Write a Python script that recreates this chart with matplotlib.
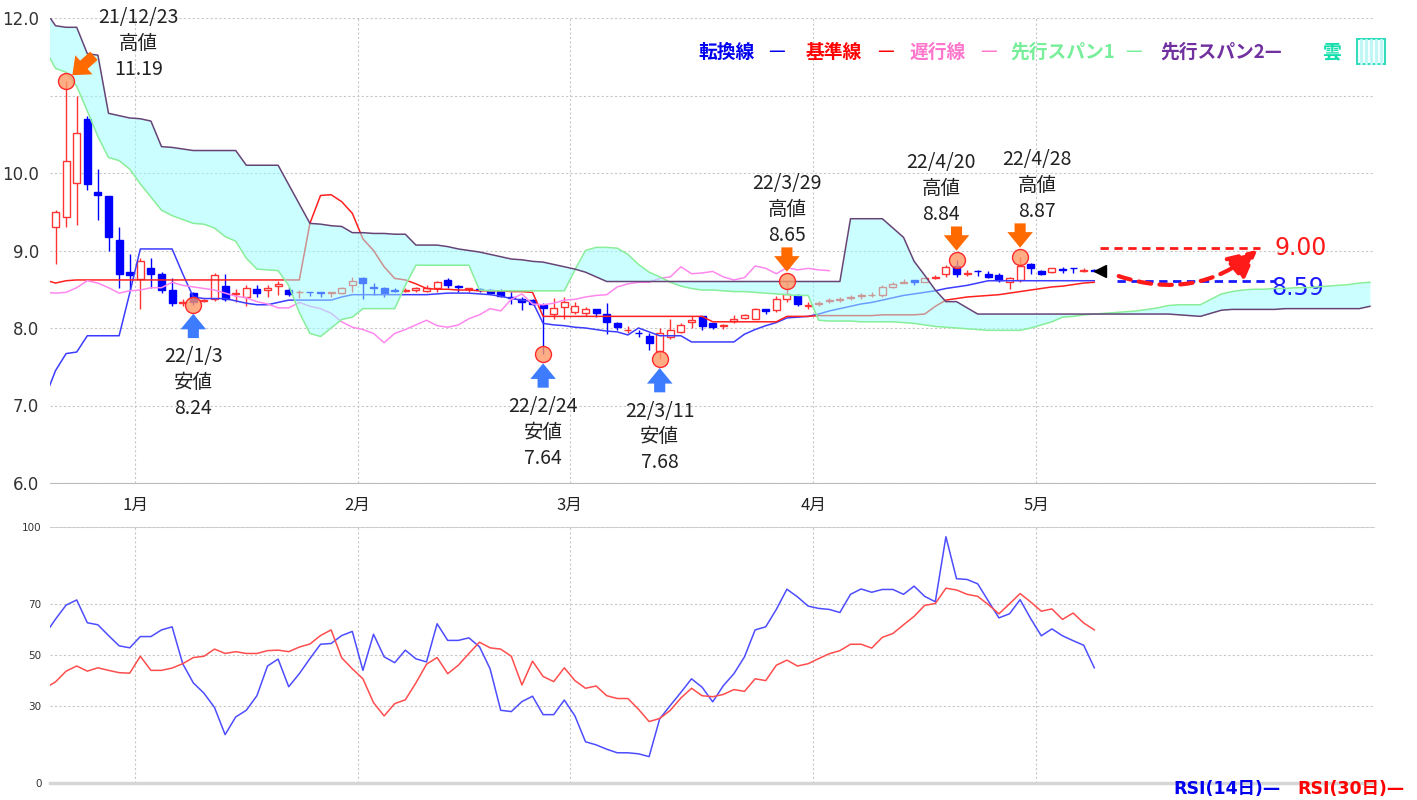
import numpy as np
import matplotlib

matplotlib.use("Agg")
import matplotlib.pyplot as plt  # noqa: E402
from matplotlib.lines import Line2D  # noqa: E402
from matplotlib.patches import Rectangle  # noqa: E402

plt.rcParams["font.family"] = ["Noto Sans CJK JP", "DejaVu Sans"]

# ---- daily candles, index 0 = first visible trading day (21/12/22) ----
opens = [9.30, 9.43, 9.87, 10.70, 9.75, 9.70, 9.13, 8.72, 8.63, 8.77,
         8.70, 8.49, 8.32, 8.45, 8.35, 8.37, 8.54, 8.44, 8.40, 8.50,
         8.49, 8.54, 8.49, 8.46, 8.47, 8.46, 8.45, 8.45, 8.55, 8.65,
         8.53, 8.51, 8.49, 8.48, 8.49, 8.48, 8.51, 8.62, 8.54, 8.50,
         8.50, 8.49, 8.48, 8.40, 8.38, 8.36, 8.30, 8.18, 8.27, 8.21,
         8.19, 8.24, 8.18, 8.06, 7.97, 7.94, 7.90, 7.70, 7.89, 7.95,
         8.08, 8.15, 8.06, 8.03, 8.09, 8.13, 8.12, 8.25, 8.23, 8.38,
         8.42, 8.29, 8.31, 8.35, 8.36, 8.39, 8.41, 8.42, 8.42, 8.53,
         8.58, 8.62, 8.59, 8.65, 8.70, 8.80, 8.70, 8.74, 8.70, 8.69,
         8.59, 8.62, 8.82, 8.74, 8.72, 8.76, 8.78, 8.74, 8.75]
highs = [9.52, 11.19, 11.00, 10.73, 10.05, 9.70, 9.30, 8.95, 8.90, 8.90,
         8.72, 8.64, 8.38, 8.46, 8.38, 8.71, 8.70, 8.50, 8.56, 8.56,
         8.56, 8.61, 8.53, 8.49, 8.47, 8.46, 8.46, 8.53, 8.66, 8.66,
         8.58, 8.53, 8.51, 8.51, 8.53, 8.55, 8.61, 8.64, 8.56, 8.51,
         8.51, 8.50, 8.50, 8.46, 8.40, 8.38, 8.32, 8.39, 8.40, 8.34,
         8.27, 8.24, 8.32, 8.08, 8.02, 7.98, 7.93, 8.00, 8.11, 8.06,
         8.15, 8.15, 8.07, 8.05, 8.17, 8.18, 8.26, 8.25, 8.41, 8.61,
         8.44, 8.34, 8.35, 8.39, 8.40, 8.43, 8.45, 8.47, 8.55, 8.59,
         8.63, 8.62, 8.65, 8.68, 8.81, 8.88, 8.75, 8.75, 8.74, 8.71,
         8.66, 8.92, 8.84, 8.75, 8.78, 8.79, 8.78, 8.78, 8.76]
lows = [8.82, 9.30, 9.33, 9.78, 9.40, 8.99, 8.51, 8.49, 8.24, 8.52,
        8.45, 8.28, 8.28, 8.30, 8.33, 8.35, 8.35, 8.33, 8.28, 8.40,
        8.40, 8.42, 8.41, 8.39, 8.41, 8.40, 8.40, 8.44, 8.46, 8.38,
        8.43, 8.40, 8.46, 8.46, 8.46, 8.47, 8.47, 8.52, 8.47, 8.47,
        8.46, 8.44, 8.40, 8.31, 8.23, 8.30, 7.66, 8.11, 8.12, 8.18,
        8.16, 8.14, 7.92, 7.97, 7.94, 7.88, 7.72, 7.60, 7.86, 7.93,
        8.00, 7.98, 7.99, 7.99, 8.06, 8.11, 8.12, 8.18, 8.21, 8.34,
        8.29, 8.24, 8.28, 8.32, 8.33, 8.36, 8.38, 8.40, 8.40, 8.51,
        8.58, 8.55, 8.59, 8.63, 8.66, 8.66, 8.67, 8.67, 8.64, 8.60,
        8.50, 8.60, 8.70, 8.69, 8.71, 8.71, 8.71, 8.72, 8.73]
closes = [9.50, 10.15, 10.51, 9.86, 9.72, 9.17, 8.70, 8.68, 8.86, 8.70,
          8.49, 8.32, 8.34, 8.33, 8.36, 8.69, 8.38, 8.45, 8.52, 8.45,
          8.52, 8.57, 8.44, 8.47, 8.46, 8.45, 8.46, 8.52, 8.61, 8.58,
          8.52, 8.45, 8.48, 8.49, 8.52, 8.52, 8.59, 8.55, 8.53, 8.51,
          8.49, 8.45, 8.41, 8.39, 8.34, 8.31, 8.26, 8.26, 8.33, 8.28,
          8.25, 8.19, 8.08, 8.01, 7.98, 7.93, 7.81, 7.93, 7.98, 8.04,
          8.10, 8.03, 8.01, 8.04, 8.12, 8.17, 8.25, 8.22, 8.37, 8.44,
          8.31, 8.30, 8.32, 8.36, 8.37, 8.40, 8.42, 8.43, 8.53, 8.57,
          8.59, 8.59, 8.64, 8.66, 8.79, 8.70, 8.71, 8.73, 8.66, 8.62,
          8.65, 8.80, 8.77, 8.70, 8.78, 8.75, 8.77, 8.75, 8.74]

# ichimoku lines, starting one day before the first candle (index -1)
tenkan = [7.10, 7.45, 7.67, 7.69, 7.90, 7.90, 7.90, 7.90, 8.45, 9.02,
          9.02, 9.02, 9.02, 8.70, 8.40, 8.38, 8.38, 8.38, 8.35, 8.32,
          8.30, 8.30, 8.33, 8.36, 8.36, 8.36, 8.36, 8.36, 8.40, 8.43,
          8.43, 8.43, 8.43, 8.43, 8.43, 8.43, 8.43, 8.44, 8.45, 8.45,
          8.45, 8.44, 8.43, 8.41, 8.38, 8.36, 8.34, 8.06, 8.04, 8.03,
          8.01, 8.00, 7.98, 7.96, 7.95, 7.91, 8.00, 7.95, 7.90, 7.90,
          7.90, 7.82, 7.82, 7.82, 7.82, 7.82, 7.92, 7.98, 8.03, 8.07,
          8.13, 8.14, 8.15, 8.18, 8.22, 8.25, 8.28, 8.31, 8.33, 8.36,
          8.39, 8.42, 8.44, 8.46, 8.48, 8.51, 8.53, 8.55, 8.58, 8.61,
          8.61, 8.61, 8.61, 8.61, 8.61, 8.61, 8.61, 8.61, 8.61, 8.61]
kijun = [8.62, 8.58, 8.61, 8.62, 8.62, 8.62, 8.62, 8.62, 8.62, 8.62,
         8.62, 8.62, 8.62, 8.62, 8.62, 8.62, 8.62, 8.62, 8.62, 8.62,
         8.62, 8.62, 8.62, 8.62, 8.62, 9.35, 9.71, 9.72, 9.63, 9.48,
         9.15, 9.00, 8.79, 8.64, 8.62, 8.57, 8.51, 8.50, 8.50, 8.49,
         8.49, 8.48, 8.48, 8.48, 8.47, 8.47, 8.46, 8.15, 8.15, 8.15,
         8.15, 8.15, 8.15, 8.15, 8.15, 8.15, 8.15, 8.15, 8.15, 8.15,
         8.15, 8.15, 8.15, 8.08, 8.08, 8.08, 8.08, 8.08, 8.08, 8.08,
         8.15, 8.15, 8.15, 8.16, 8.16, 8.16, 8.16, 8.16, 8.16, 8.17,
         8.17, 8.17, 8.17, 8.18, 8.28, 8.36, 8.38, 8.40, 8.41, 8.42,
         8.43, 8.45, 8.47, 8.49, 8.51, 8.53, 8.54, 8.56, 8.58, 8.59]
span1 = [11.60, 11.35, 11.30, 11.12, 10.80, 10.47, 10.20, 10.16, 10.05, 9.86,
         9.69, 9.52, 9.45, 9.40, 9.35, 9.34, 9.29, 9.18, 9.12, 8.90,
         8.76, 8.75, 8.74, 8.55, 8.20, 7.93, 7.89, 8.00, 8.11, 8.14,
         8.25, 8.25, 8.25, 8.25, 8.55, 8.81, 8.81, 8.81, 8.81, 8.81,
         8.81, 8.49, 8.48, 8.48, 8.48, 8.48, 8.48, 8.48, 8.48, 8.48,
         8.75, 9.00, 9.04, 9.04, 9.03, 8.95, 8.82, 8.72, 8.66, 8.59,
         8.54, 8.51, 8.49, 8.49, 8.48, 8.47, 8.47, 8.46, 8.45, 8.44,
         8.43, 8.42, 8.42, 8.10, 8.09, 8.09, 8.09, 8.08, 8.08, 8.08,
         8.08, 8.07, 8.06, 8.04, 8.02, 8.01, 8.00, 7.99, 7.98, 7.97,
         7.97, 7.97, 7.97, 8.00, 8.04, 8.08, 8.14, 8.15, 8.17, 8.18,
         8.19, 8.20, 8.21, 8.22, 8.24, 8.26, 8.29, 8.30, 8.30, 8.30,
         8.37, 8.44, 8.47, 8.49, 8.50, 8.50, 8.51, 8.51, 8.52, 8.52,
         8.53, 8.54, 8.55, 8.56, 8.58, 8.59]
span2 = [12.10, 11.90, 11.88, 11.88, 11.54, 11.52, 10.77, 10.74, 10.71, 10.70,
         10.67, 10.34, 10.33, 10.31, 10.29, 10.29, 10.29, 10.29, 10.29, 10.10,
         10.10, 10.10, 10.10, 9.85, 9.60, 9.35, 9.34, 9.32, 9.31, 9.23,
         9.23, 9.22, 9.22, 9.21, 9.21, 9.07, 9.07, 9.07, 9.05, 9.02,
         9.00, 8.98, 8.95, 8.92, 8.89, 8.88, 8.86, 8.85, 8.82, 8.79,
         8.76, 8.72, 8.66, 8.60, 8.60, 8.60, 8.60, 8.60, 8.60, 8.60,
         8.60, 8.60, 8.60, 8.60, 8.60, 8.60, 8.60, 8.60, 8.60, 8.60,
         8.60, 8.60, 8.60, 8.60, 8.60, 8.60, 9.41, 9.41, 9.41, 9.41,
         9.29, 9.17, 8.86, 8.68, 8.49, 8.34, 8.34, 8.26, 8.18, 8.18,
         8.18, 8.18, 8.18, 8.18, 8.18, 8.18, 8.18, 8.18, 8.18, 8.18,
         8.18, 8.18, 8.18, 8.18, 8.18, 8.18, 8.18, 8.17, 8.16, 8.15,
         8.19, 8.23, 8.24, 8.24, 8.24, 8.24, 8.24, 8.25, 8.25, 8.25,
         8.25, 8.25, 8.25, 8.25, 8.25, 8.28]
CHIKOU_SHIFT = 25

rsi14 = [58.0, 64.0, 69.5, 71.5, 62.6, 61.8, 57.6, 53.6, 52.8, 57.2,
         57.2, 59.8, 61.0, 46.6, 39.1, 35.1, 29.5, 18.9, 25.8, 28.4,
         34.1, 45.7, 48.4, 37.6, 42.7, 48.6, 54.2, 54.5, 57.6, 59.2,
         44.0, 58.1, 49.3, 47.0, 51.9, 48.5, 47.3, 62.2, 55.7, 55.7,
         56.7, 53.2, 44.6, 28.4, 27.9, 31.8, 33.9, 26.7, 26.7, 32.4,
         26.2, 16.1, 14.9, 13.2, 11.8, 11.8, 11.4, 10.3, 25.1, 30.3,
         35.4, 40.7, 37.4, 31.7, 38.0, 42.7, 49.3, 59.8, 61.0, 67.8,
         75.7, 72.7, 69.1, 68.2, 67.8, 66.6, 73.7, 75.8, 74.5, 75.6,
         75.6, 73.7, 76.9, 72.9, 70.8, 96.2, 79.8, 79.5, 77.8, 71.1,
         64.5, 66.1, 71.6, 64.2, 57.5, 60.2, 57.5, 55.6, 53.8, 45.0]
rsi30 = [37.0, 39.5, 43.7, 45.7, 43.7, 45.0, 44.0, 43.1, 42.9, 49.5,
         44.0, 44.0, 44.9, 46.6, 49.0, 49.5, 52.3, 50.6, 51.3, 50.6,
         50.6, 51.7, 51.9, 51.3, 53.1, 54.3, 57.6, 59.8, 48.9, 44.6,
         40.7, 31.4, 26.2, 31.0, 32.5, 39.1, 46.4, 49.0, 42.7, 46.0,
         50.6, 55.0, 52.8, 52.3, 49.5, 38.3, 47.6, 41.6, 39.6, 45.0,
         40.0, 37.0, 37.9, 34.1, 33.0, 33.0, 28.8, 24.0, 25.2, 28.4,
         33.2, 37.0, 34.1, 33.7, 34.6, 36.5, 35.8, 40.7, 40.0, 46.0,
         48.0, 45.7, 46.6, 48.6, 50.5, 51.7, 54.2, 54.2, 52.7, 56.9,
         58.4, 61.8, 65.1, 69.4, 70.1, 76.1, 75.4, 73.7, 72.9, 69.7,
         66.1, 70.0, 74.0, 70.7, 67.1, 68.0, 63.9, 66.4, 62.5, 59.8]

month_first = [8, 29, 49, 72, 93]
month_labels = ["1月", "2月", "3月", "4月", "5月"]

# highlighted highs / lows (label nudged sideways where two would collide)
mark_idx = [1, 13, 46, 57, 69, 85, 91]
mark_kind = ["high", "low", "low", "low", "high", "high", "high"]
mark_date = ["21/12/23", "22/1/3", "22/2/24", "22/3/11", "22/3/29", "22/4/20", "22/4/28"]
mark_price = ["11.19", "8.24", "7.64", "7.68", "8.65", "8.84", "8.87"]
mark_nudge = [0, 0, 0, 0, 0, -11, 12]

target_hi, target_hi_label = 9.03, "9.00"
target_lo, target_lo_label = 8.61, "8.59"

UP = "#ff3333"
DOWN = "#0000ff"
GRID = "#c8c8c8"

W, H = 1417, 800
fig = plt.figure(figsize=(W / 100, H / 100), dpi=100)
ax = fig.add_axes([50 / W, 1 - 483 / H, 1325 / W, 465 / H])
ax2 = fig.add_axes([50 / W, 1 - 783 / H, 1325 / W, 256 / H])

n = len(closes)
x = np.arange(n)
o, h, l, c = (np.array(v) for v in (opens, highs, lows, closes))
up = c >= o
body_lo = np.minimum(o, c)
body_h = np.maximum(np.abs(c - o), 0.006)

# ---- candles ----
ax.vlines(x[up], l[up], h[up], color=UP, lw=1, zorder=2)
ax.vlines(x[~up], l[~up], h[~up], color=DOWN, lw=1, zorder=2)
ax.bar(x[up], body_h[up], bottom=body_lo[up], width=0.66,
       facecolor="white", edgecolor=UP, lw=1, zorder=2.1)
ax.bar(x[~up], body_h[~up], bottom=body_lo[~up], width=0.66,
       facecolor=DOWN, edgecolor=DOWN, lw=1, zorder=2.1)

# ---- ichimoku ----
xl = np.arange(len(tenkan)) - 1
ax.plot(xl, tenkan, color="#3c3cff", lw=1.1, zorder=2.5)
ax.plot(xl, kijun, color="#ff2020", lw=1.1, zorder=2.5)
cx = np.arange(CHIKOU_SHIFT - 1, n) - CHIKOU_SHIFT
ax.plot(cx, c[CHIKOU_SHIFT - 1:], color="#ff88ee", lw=1.1, zorder=2.5)
xs = np.arange(len(span1)) - 1
ax.fill_between(xs, span1, span2, color="#99ffff", alpha=0.5, lw=0, zorder=3)
ax.plot(xs, span1, color="#88ee99", lw=1.1, zorder=3.5)
ax.plot(xs, span2, color="#664477", lw=1.1, zorder=3.5)

# ---- highs / lows ----
style = "simple,head_length=0.7,head_width=1.15,tail_width=0.5"
for k, (i, kind, d, p) in enumerate(zip(mark_idx, mark_kind, mark_date, mark_price)):
    y = highs[i] if kind == "high" else lows[i]
    ax.plot(i, y, "o", ms=11.5, mfc=(1.0, 0.6, 0.4, 0.8), mec="#ff2a2a",
            mew=1, zorder=6)
    txt = f"{d}\n{'高値' if kind == 'high' else '安値'}\n{p}"
    dx = mark_nudge[k]
    if k == 0:
        ax.annotate("", xy=(i, y), xytext=(20, 18), textcoords="offset points",
                    arrowprops=dict(arrowstyle=style, fc="#ff6a00", ec="none",
                                    shrinkA=0, shrinkB=6, mutation_scale=16),
                    zorder=7)
        ax.annotate(txt, xy=(i, y), xytext=(52, 53), textcoords="offset points",
                    ha="center", va="top", fontsize=14, color="#222222",
                    linespacing=1.3, annotation_clip=False)
    elif kind == "high":
        ax.annotate("", xy=(i, y), xytext=(0, 24), textcoords="offset points",
                    arrowprops=dict(arrowstyle=style, fc="#ff6a00", ec="none",
                                    shrinkA=0, shrinkB=6.5, mutation_scale=16),
                    zorder=7)
        ax.annotate(txt, xy=(i, y), xytext=(dx, 25), textcoords="offset points",
                    ha="center", va="bottom", fontsize=14, color="#222222",
                    linespacing=1.3)
    else:
        ax.annotate("", xy=(i, y), xytext=(0, -24), textcoords="offset points",
                    arrowprops=dict(arrowstyle=style, fc="#3d7bff", ec="none",
                                    shrinkA=0, shrinkB=6.5, mutation_scale=16),
                    zorder=7)
        ax.annotate(txt, xy=(i, y), xytext=(dx, -30), textcoords="offset points",
                    ha="center", va="top", fontsize=14, color="#222222",
                    linespacing=1.3)

# ---- outlook on the right ----
ax.plot(n - 0.5, c[-1], marker="<", ms=8, color="black", zorder=6)
ax.hlines(target_hi, n - 0.5, n + 14.6, colors="#ff1a1a", linestyles=(0, (3, 2)),
          lw=2, zorder=5)
ax.hlines(target_lo, n + 1.1, n + 16, colors="#1a1aff", linestyles=(0, (3, 2)),
          lw=2, zorder=5)
ax.annotate("", xy=(n + 14.4, target_hi - 0.02), xytext=(n + 1.3, c[-1] - 0.07),
            arrowprops=dict(arrowstyle="-|>,head_length=0.9,head_width=0.45",
                            connectionstyle="arc3,rad=0.28", color="#ff1a1a",
                            lw=3, linestyle=(0, (3, 2)), mutation_scale=20,
                            shrinkA=0, shrinkB=0), zorder=5)
ax.text(n + 16, target_hi, target_hi_label, color="#ff1a1a", fontsize=17,
        va="center", ha="left", family=["DejaVu Sans"])
ax.text(n + 15.7, target_lo - 0.1, target_lo_label, color="#1a1aff", fontsize=17,
        va="center", ha="left", family=["DejaVu Sans"])

# ---- axes styling (price) ----
ax.set_xlim(-0.52, 124.48)
ax.set_ylim(6, 12)
ax.set_yticks([6, 7, 8, 9, 10, 11, 12])
ax.set_yticklabels(["6.0", "7.0", "8.0", "9.0", "10.0", "", "12.0"],
                   fontsize=12, color="#333333", family=["DejaVu Sans"])
ax.set_xticks([m - 0.5 for m in month_first])
ax.set_xticklabels(month_labels, fontsize=12, color="#222222")
ax.tick_params(length=0, pad=8)
ax.tick_params(axis="x", pad=10)
ax.grid(True, color=GRID, ls=(0, (2, 2)), lw=0.8)
ax.set_axisbelow(True)
for s in ("top", "right", "left"):
    ax.spines[s].set_visible(False)
ax.spines["bottom"].set_color("#bbbbbb")

# ---- RSI panel ----
ax2.plot(xl, rsi14, color="#4d4dff", lw=1.1)
ax2.plot(xl, rsi30, color="#ff4d4d", lw=1.1)
ax2.set_xlim(-0.52, 124.48)
ax2.set_ylim(0, 100)
ax2.set_yticks([0, 30, 50, 70, 100])
ax2.set_yticklabels(["0", "30", "50", "70", "100"], fontsize=7.5, color="#333333",
                    family=["DejaVu Sans"])
ax2.set_xticks([m - 0.5 for m in month_first])
ax2.set_xticklabels([])
ax2.tick_params(length=0, pad=6)
ax2.grid(True, color=GRID, ls=(0, (2, 2)), lw=0.8)
ax2.set_axisbelow(True)
for s in ("top", "right", "left"):
    ax2.spines[s].set_visible(False)
ax2.spines["bottom"].set_color("#d6d6d6")
ax2.spines["bottom"].set_linewidth(2.5)
ax2.axhline(100, color="#cccccc", lw=1.2, zorder=0)

# ---- legends as text ----
legend_items = [
    ("転換線", 698, "—", 768, "#0000ee"),
    ("基準線", 806, "—", 877, "#ff0000"),
    ("遅行線", 910, "—", 980, "#ff77cc"),
    ("先行スパン1", 1010, "—", 1125, "#77ee99"),
    ("先行スパン2—", 1160, "", 0, "#7030a0"),
    ("雲", 1322, "", 0, "#11ddaa"),
]
for label, px, dash, dpx, col in legend_items:
    fig.text(px / W, 1 - 52 / H, label, color=col, fontsize=13.5,
             fontweight="bold", va="center", ha="left")
    if dash:
        fig.text(dpx / W, 1 - 52 / H, dash, color=col, fontsize=13.5,
                 va="center", ha="left")
fig.patches.append(Rectangle((1357 / W, 1 - 64 / H), 28 / W, 25 / H,
                             transform=fig.transFigure, facecolor="#f4ffff",
                             edgecolor="none"))
for sx in range(1361, 1384, 5):
    fig.add_artist(Line2D([sx / W, sx / W], [1 - 63 / H, 1 - 40 / H],
                          transform=fig.transFigure, color="#bff6f6", lw=2))
fig.patches.append(Rectangle((1357 / W, 1 - 64 / H), 28 / W, 25 / H,
                             transform=fig.transFigure, facecolor="none",
                             edgecolor="#33ddbb", lw=1.5))

rsi_font = ["DejaVu Sans", "Noto Sans CJK JP"]
fig.text(1173 / W, 1 - 789 / H, "RSI(14日)—", color="#0000ee", fontsize=12.5,
         fontweight="bold", va="center", ha="left", family=rsi_font)
fig.text(1297 / W, 1 - 789 / H, "RSI(30日)—", color="#ff0000", fontsize=12.5,
         fontweight="bold", va="center", ha="left", family=rsi_font)

fig.savefig("out.png", dpi=100)
